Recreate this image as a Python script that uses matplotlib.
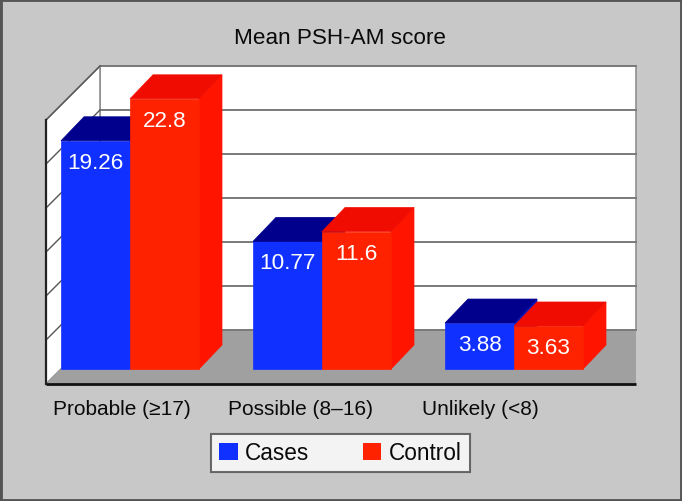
import matplotlib
matplotlib.use('Agg')
import matplotlib.pyplot as plt
from matplotlib.patches import Rectangle, Polygon
import numpy as np

plt.rcParams['font.family'] = ['Liberation Sans', 'DejaVu Sans']

# data
categories = ['Probable (≥17)', 'Possible (8–16)', 'Unlikely (<8)']
series_names = ['Cases', 'Control']
cases = [19.26, 10.77, 3.88]
control = [22.8, 11.6, 3.63]
title = 'Mean PSH-AM score'
wall_max = 30
wall_step = 5

# layout (pixels of the 682x502 picture)
W, H = 682, 502
X0_PX, X_STEP_PX = 130, 192      # centre of first group, spacing of groups
BASE_PX, PX_PER_UNIT = 370, 11.85  # bar floor and bar scale
DEPTH_X, DEPTH_Y = 23, 24        # 3d depth of the bars
BAR_W = 69 / X_STEP_PX

BACK_L, BACK_R, FRONT_L = 100, 636, 46
BACK_BASE, FRONT_BASE = 331, 385
WALL_PX_PER_UNIT = 8.8

BLUE = {'front': '#1030ff', 'top': '#00008c', 'side': '#0018c8'}
RED = {'front': '#ff2200', 'top': '#f00c00', 'side': '#ff1400'}


def to_data(xp, yp):
    return (xp - X0_PX) / X_STEP_PX, (BASE_PX - yp) / PX_PER_UNIT


fig = plt.figure(figsize=(W / 100, H / 100), dpi=100)
fig.patch.set_facecolor('#c8c8c8')
ax = fig.add_axes([0, 0, 1, 1])
ax.set_xlim(to_data(0, 0)[0], to_data(W, 0)[0])
ax.set_ylim(to_data(0, H)[1], to_data(0, 0)[1])
ax.axis('off')

dx = DEPTH_X / X_STEP_PX
dy = DEPTH_Y / PX_PER_UNIT

# walls and floor
wall_top_b = BACK_BASE - wall_max * WALL_PX_PER_UNIT
wall_top_f = FRONT_BASE - wall_max * WALL_PX_PER_UNIT
back = [to_data(BACK_L, BACK_BASE), to_data(BACK_R, BACK_BASE),
        to_data(BACK_R, wall_top_b), to_data(BACK_L, wall_top_b)]
left = [to_data(FRONT_L, FRONT_BASE), to_data(BACK_L, BACK_BASE),
        to_data(BACK_L, wall_top_b), to_data(FRONT_L, wall_top_f)]
floor = [to_data(FRONT_L, FRONT_BASE), to_data(BACK_L, BACK_BASE),
         to_data(BACK_R, BACK_BASE), to_data(BACK_R, FRONT_BASE)]
ax.add_patch(Polygon(back, closed=True, fc='white', ec='#909090', lw=1.2, zorder=1))
ax.add_patch(Polygon(left, closed=True, fc='white', ec='#909090', lw=1.2, zorder=1))
ax.add_patch(Polygon(floor, closed=True, fc='#a0a0a0', ec='none', zorder=1.5))

for v in np.arange(wall_step, wall_max + 0.1, wall_step):
    yb = BACK_BASE - v * WALL_PX_PER_UNIT
    yf = FRONT_BASE - v * WALL_PX_PER_UNIT
    (x1, y1), (x2, y2) = to_data(BACK_L, yb), to_data(BACK_R, yb)
    ax.plot([x1, x2], [y1, y2], color='#7a7a7a', lw=1.4, zorder=2)
    (x3, y3) = to_data(FRONT_L, yf)
    ax.plot([x3, x1], [y3, y1], color='#555555', lw=1.0, zorder=2)

(x1, y1), (x2, y2) = to_data(BACK_L, BACK_BASE), to_data(BACK_R, BACK_BASE)
ax.plot([x1, x2], [y1, y2], color='#7a7a7a', lw=1.4, zorder=2)
# front axis lines
(xa, ya), (xb, yb_) = to_data(FRONT_L, FRONT_BASE), to_data(BACK_R, FRONT_BASE)
ax.plot([xa, xb], [ya, yb_], color='#111111', lw=2, zorder=2.5, solid_capstyle='butt')
(xc, yc) = to_data(FRONT_L, wall_top_f)
ax.plot([xa, xc], [ya, yc], color='#222222', lw=1.6, zorder=2.5)

# bars
x = np.arange(len(categories))
label_off = 27 / PX_PER_UNIT
z = 3
for vals, offs, col in [(cases, -BAR_W, BLUE), (control, 0, RED)]:
    left_x = x + offs
    for xl, v in zip(left_x, vals):
        side = [(xl + BAR_W, 0), (xl + BAR_W, v), (xl + BAR_W + dx, v + dy), (xl + BAR_W + dx, dy)]
        ax.add_patch(Polygon(side, closed=True, fc=col['side'], ec=col['side'], lw=0.5, zorder=z))
    ax.bar(left_x, vals, width=BAR_W, align='edge', color=col['front'],
           edgecolor=col['front'], linewidth=0.5, zorder=z + 1)
    for xl, v in zip(left_x, vals):
        top = [(xl, v), (xl + BAR_W, v), (xl + BAR_W + dx, v + dy), (xl + dx, v + dy)]
        ax.add_patch(Polygon(top, closed=True, fc=col['top'], ec=col['top'], lw=0.5, zorder=z + 2))
        ax.text(xl + BAR_W / 2, v - label_off, f'{v:g}', color='white', fontsize=16.2,
                ha='center', va='baseline', zorder=z + 3)
    z += 4

# category labels
lab_x0 = (122 - X0_PX) / X_STEP_PX
lab_step = 179 / X_STEP_PX
lab_y = to_data(0, 415)[1]
for i, c in enumerate(categories):
    ax.text(lab_x0 + i * lab_step, lab_y, c, fontsize=15, ha='center', va='baseline', color='#0a0a0a')

fig.text(340.5 / W, 1 - 44 / H, title, fontsize=16.2, ha='center', va='baseline', color='#0a0a0a')

# legend
handles = [Rectangle((0, 0), 1, 1, fc=BLUE['front']), Rectangle((0, 0), 1, 1, fc=RED['front'])]
leg = fig.legend(handles, series_names, loc='center', bbox_to_anchor=(340.5 / W, 1 - 454 / H),
                 ncol=2, fontsize=16.3, frameon=True, fancybox=False, handlelength=0.8,
                 handleheight=0.8, handletextpad=0.32, columnspacing=2.4, borderpad=0.35,
                 borderaxespad=0)
leg.get_frame().set_edgecolor('#4a4a4a')
leg.get_frame().set_linewidth(1.5)
for t in leg.get_texts():
    t.set_color('#0a0a0a')

fig.patches.append(Rectangle((0, 0), 1, 1, transform=fig.transFigure, fill=False,
                             ec='#555555', lw=3.5))

fig.savefig('out.png', dpi=100, facecolor=fig.get_facecolor())
